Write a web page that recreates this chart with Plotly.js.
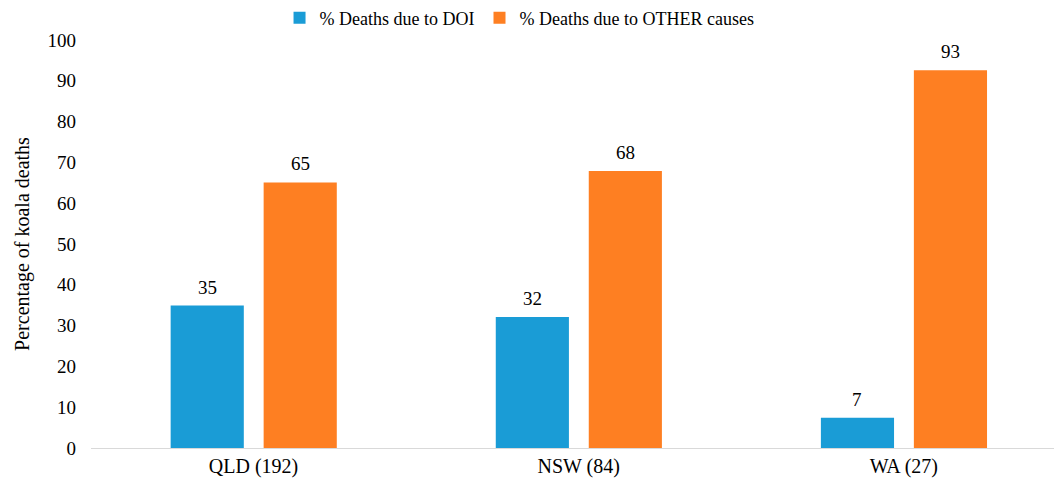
<!DOCTYPE html>
<html>
<head>
<meta charset="utf-8">
<script src="https://cdn.plot.ly/plotly-3.0.1.min.js"></script>
<style>
  html, body { margin: 0; padding: 0; background: #fff; }
  #plot { width: 1054px; height: 481px; }
</style>
</head>
<body>
<div id="plot"></div>
<script>
// states with sample size
let states = ["QLD (192)", "NSW (84)", "WA (27)"];
let doiPct = [34.9, 32.1, 7.4];
let otherPct = [65.1, 67.9, 92.6];
let doiLabels = ["35", "32", "7"];
let otherLabels = ["65", "68", "93"];

let serif = '"Liberation Serif", "Times New Roman", serif';
let barW = 0.225;
let doiOffset = -0.255;
let otherOffset = 0.031;

// Trace for DOI deaths
let traceDoi = {
  x: states,
  y: doiPct,
  type: "bar",
  name: "% Deaths due to DOI",
  marker: { color: "#1a9cd6" },
  width: barW,
  offset: doiOffset,
  hoverinfo: "y"
};

// Trace for other causes
let traceOther = {
  x: states,
  y: otherPct,
  type: "bar",
  name: "% Deaths due to OTHER causes",
  marker: { color: "#fe7f22" },
  width: barW,
  offset: otherOffset,
  hoverinfo: "y"
};

// value labels above the bars
let labels = [];
states.forEach(function (s, i) {
  labels.push({ x: i + doiOffset + barW / 2, y: doiPct[i], text: doiLabels[i] });
  labels.push({ x: i + otherOffset + barW / 2, y: otherPct[i], text: otherLabels[i] });
});
let annotations = labels.map(function (l) {
  return {
    xref: "x", yref: "y", x: l.x, y: l.y, text: l.text,
    showarrow: false, yanchor: "bottom", yshift: 6,
    font: { family: serif, size: 19, color: "#000" }
  };
});

let layout = {
  width: 1054,
  height: 481,
  margin: { l: 91, r: 0, t: 40, b: 33, autoexpand: false },
  paper_bgcolor: "#fff",
  plot_bgcolor: "#fff",
  font: { family: serif, size: 19, color: "#000" },
  barmode: "overlay",
  showlegend: true,
  legend: {
    orientation: "h",
    x: 0.445,
    xanchor: "center",
    xref: "paper",
    y: 1.054,
    yanchor: "middle",
    font: { family: serif, size: 18, color: "#000" },
    itemwidth: 30
  },
  annotations: annotations,
  xaxis: {
    range: [-0.5, 2.462],
    showline: true,
    linecolor: "#d9d9d9",
    linewidth: 1,
    ticks: "",
    showgrid: false,
    tickfont: { family: serif, size: 20, color: "#000" }
  },
  yaxis: {
    range: [0, 100],
    dtick: 10,
    showgrid: false,
    zeroline: false,
    showline: false,
    ticks: "",
    ticklabelstandoff: 14,
    tickfont: { family: serif, size: 19, color: "#000" },
    title: { text: "Percentage of koala deaths", font: { family: serif, size: 20, color: "#000" }, standoff: 12 }
  }
};

Plotly.newPlot("plot", [traceDoi, traceOther], layout, { displayModeBar: false, staticPlot: true });
</script>
</body>
</html>
